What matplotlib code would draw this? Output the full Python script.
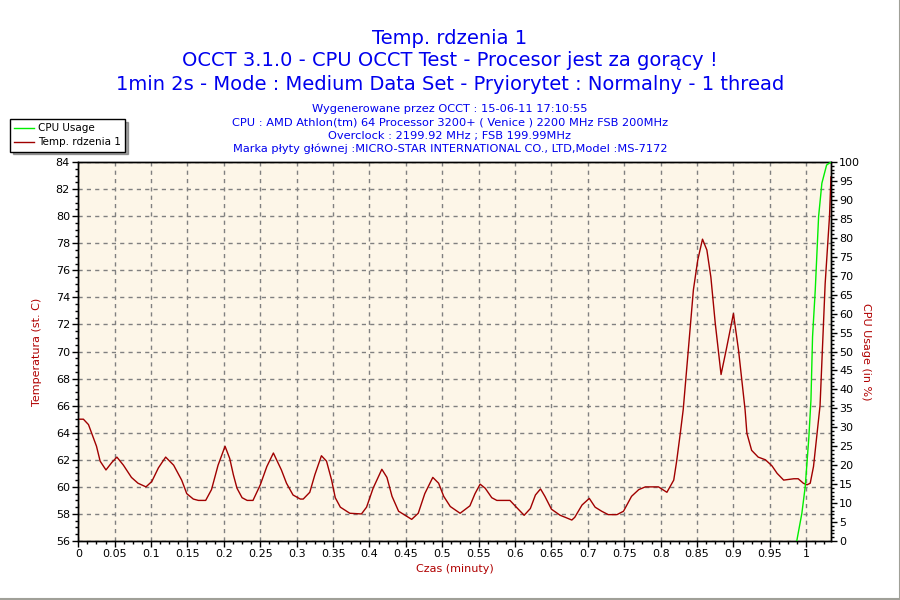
import numpy as np
import matplotlib.pyplot as plt
from matplotlib.ticker import MultipleLocator
from matplotlib.lines import Line2D

# temperature of core 1
time_min = [0.000, 0.007, 0.014, 0.025, 0.030, 0.038, 0.046, 0.053, 0.062, 0.073,
            0.082, 0.093, 0.101, 0.110, 0.120, 0.131, 0.142, 0.149, 0.158, 0.165,
            0.175, 0.183, 0.192, 0.2016, 0.208, 0.213, 0.218, 0.225, 0.232, 0.240,
            0.250, 0.259, 0.268, 0.279, 0.286, 0.295, 0.305, 0.309, 0.318, 0.325,
            0.334, 0.341, 0.348, 0.353, 0.360, 0.373, 0.389, 0.396, 0.405, 0.417,
            0.424, 0.431, 0.440, 0.449, 0.458, 0.467, 0.476, 0.487, 0.495, 0.502,
            0.511, 0.5245, 0.538, 0.545, 0.552, 0.559, 0.568, 0.575, 0.593, 0.600,
            0.6125, 0.621, 0.628, 0.635, 0.641, 0.650, 0.662, 0.669, 0.678, 0.682,
            0.692, 0.702, 0.710, 0.719, 0.728, 0.740, 0.749, 0.760, 0.770, 0.779,
            0.797, 0.8086, 0.818, 0.822, 0.827, 0.831, 0.838, 0.845, 0.851, 0.8575,
            0.8635, 0.869, 0.875, 0.883, 0.890, 0.900, 0.907, 0.916, 0.9185, 0.925,
            0.934, 0.944, 0.953, 0.960, 0.969, 0.983, 0.989, 0.996, 1.001, 1.0055,
            1.010, 1.015, 1.019, 1.026, 1.032, 1.034]
temp_c = [65.0, 65.0, 64.6, 63.0, 61.9, 61.25, 61.8, 62.2, 61.6, 60.7,
          60.27, 60.0, 60.4, 61.4, 62.2, 61.6, 60.5, 59.5, 59.1, 59.0,
          59.0, 59.8, 61.6, 63.0, 62.1, 60.9, 59.9, 59.2, 59.0, 59.0,
          60.15, 61.5, 62.5, 61.25, 60.27, 59.4, 59.1, 59.1, 59.6, 60.9,
          62.3, 61.9, 60.5, 59.2, 58.5, 58.05, 58.0, 58.5, 59.9, 61.3,
          60.7, 59.3, 58.2, 57.9, 57.6, 58.05, 59.5, 60.7, 60.27, 59.3,
          58.55, 58.05, 58.6, 59.5, 60.2, 59.9, 59.2, 59.0, 59.0, 58.6,
          57.9, 58.4, 59.4, 59.85, 59.3, 58.35, 57.9, 57.75, 57.55, 57.75,
          58.66, 59.15, 58.5, 58.2, 57.95, 57.95, 58.2, 59.3, 59.8, 60.0,
          60.0, 59.6, 60.5, 61.9, 63.96, 65.7, 70.1, 74.55, 76.76, 78.3,
          77.5, 75.5, 72.1, 68.3, 70.1, 72.8, 70.1, 65.7, 63.96, 62.7,
          62.2, 62.0, 61.55, 61.0, 60.5, 60.6, 60.6, 60.27, 60.15, 60.27,
          61.5, 64.0, 66.0, 75.0, 80.0, 82.9]

# cpu usage in %
cpu_time = [0.987, 0.994, 0.9986, 1.0035, 1.0065, 1.0087, 1.0124, 1.017, 1.0215, 1.028, 1.034]
cpu_pct = [0.0, 7.3, 14.3, 27.0, 37.2, 53.9, 66.2, 85.6, 94.4, 99.2, 100.0]

red = '#a00000'
label_red = '#b00000'
blue = '#0000ee'

fig = plt.figure(figsize=(9, 6), dpi=100)
ax = fig.add_axes([0.087, 0.0983, 0.8363, 0.6317])
ax.set_facecolor('#fdf6e8')
ax2 = ax.twinx()

ax.plot(time_min, temp_c, color=red, lw=1.0, zorder=3)
ax2.plot(cpu_time, cpu_pct, color='#00ee00', lw=1.0, zorder=3)

ax.set_xlim(0, 1.034)
ax.set_ylim(56, 84)
ax2.set_ylim(0, 100)

ax.xaxis.set_major_locator(MultipleLocator(0.05))
ax.xaxis.set_minor_locator(MultipleLocator(0.0125))
ax.yaxis.set_major_locator(MultipleLocator(2))
ax.yaxis.set_minor_locator(MultipleLocator(0.5))
ax2.yaxis.set_major_locator(MultipleLocator(5))
ax2.yaxis.set_minor_locator(MultipleLocator(1))
ax.set_xticklabels([f"{v:g}" for v in ax.get_xticks()])

for a in (ax, ax2):
    a.tick_params(which='major', length=4, width=1, labelsize=8, pad=2)
    a.tick_params(which='minor', length=2, width=1)
    for s in a.spines.values():
        s.set_color('black')
        s.set_linewidth(1)

ax.grid(True, which='major', color='#808080', ls=(0, (3, 3)), lw=1)

ax.set_xlabel("Czas (minuty)", color=label_red, fontsize=8, labelpad=3)
ax.set_ylabel("Temperatura (st. C)", color=label_red, fontsize=8, labelpad=10)
ax2.set_ylabel("CPU Usage (in %)", color=label_red, fontsize=8, rotation=270, labelpad=8)

fig.text(0.5, 1 - 38 / 600, "Temp. rdzenia 1", ha='center', va='center', color=blue, fontsize=14)
fig.text(0.5, 1 - 61 / 600, "OCCT 3.1.0 - CPU OCCT Test - Procesor jest za gorący !",
         ha='center', va='center', color=blue, fontsize=14)
fig.text(0.5, 1 - 84 / 600, "1min 2s - Mode : Medium Data Set - Pryiorytet : Normalny - 1 thread",
         ha='center', va='center', color=blue, fontsize=14)

info = ["Wygenerowane przez OCCT : 15-06-11 17:10:55",
        "CPU : AMD Athlon(tm) 64 Processor 3200+ ( Venice ) 2200 MHz FSB 200MHz",
        "Overclock : 2199.92 MHz ; FSB 199.99MHz",
        "Marka płyty głównej :MICRO-STAR INTERNATIONAL CO., LTD,Model :MS-7172"]
for i, line in enumerate(info):
    fig.text(0.5, 1 - (109 + 13.4 * i) / 600, line, ha='center', va='center', color=blue, fontsize=8.2)

handles = [Line2D([], [], color='#00ee00', lw=1.0), Line2D([], [], color=red, lw=1.0)]
leg = fig.legend(handles, ["CPU Usage", "Temp. rdzenia 1"], loc='upper left',
                 bbox_to_anchor=(10 / 900, 1 - 119 / 600), fontsize=7.5, frameon=True,
                 fancybox=False, shadow=True, borderpad=0.4, labelspacing=0.4,
                 handlelength=1.9, handletextpad=0.4, borderaxespad=0)
leg.get_frame().set_edgecolor('black')
leg.get_frame().set_linewidth(1)

# grey edge on the right and bottom of the image
fig.add_artist(Line2D([0, 1, 1], [0.0015, 0.0015, 1], transform=fig.transFigure,
                      color='#a0a098', lw=1.5))

fig.savefig("out.png", dpi=100)
